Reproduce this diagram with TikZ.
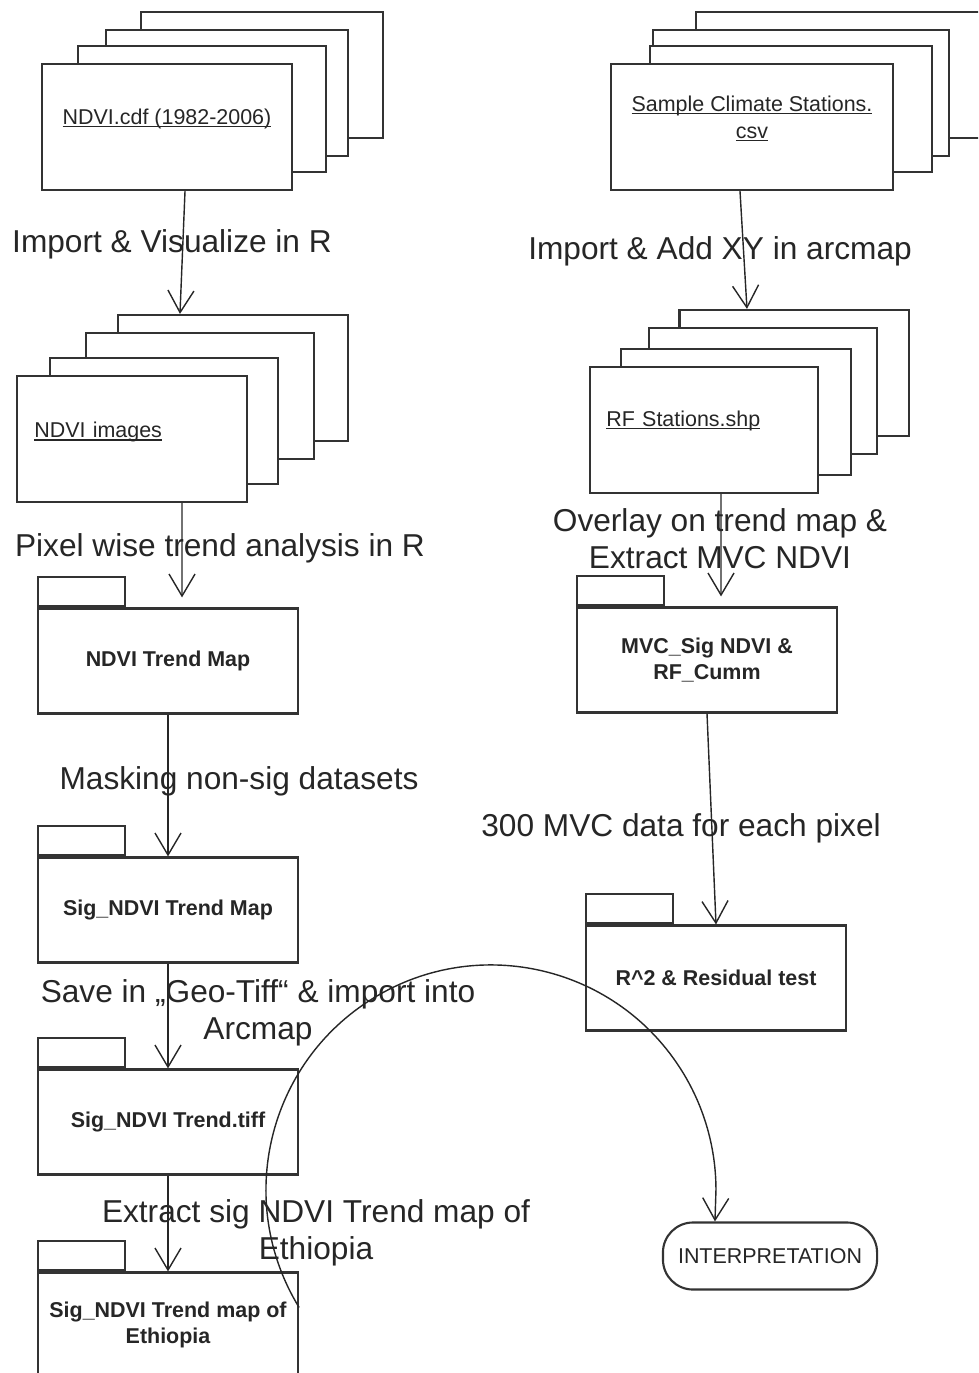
\documentclass[tikz,border=0pt]{standalone}
\usepackage{fontspec}
\setmainfont{Liberation Sans}
\usetikzlibrary{arrows.meta}
\newcommand\docname[1]{\setbox0=\hbox{#1}\rlap{\vrule width\wd0 height-0.45pt depth0.85pt}\box0}
\tikzset{sheet/.style={
    rectangle,
    draw=black!80,
    fill=white,
    line width=0.6pt,
    inner sep=0pt,
    minimum width=#1,
    minimum height=1.26cm,
    text=black!85,
    font=\fontsize{6.1}{7.6}\selectfont
  },
  docbox/.style={sheet=#1,align=center},
  leftdoc/.style={sheet=#1,align=left,text width=1.95cm},
  folder/.style={sheet=2.6cm,minimum height=1.05cm,align=center,
    font=\fontsize{6.1}{7.4}\selectfont\bfseries},
  foldtab/.style={sheet=0.87cm,minimum height=0.29cm,anchor=south west},
  endbox/.style={sheet=2.14cm,minimum height=0.67cm,rounded corners=0.3cm},
  steplabel/.style={inner sep=0pt,align=center,text=black!85,
    font=\fontsize{9}{10.5}\selectfont},
  flow/.style={draw=black!85,line width=0.4pt,
    -{Straight Barb[length=0.22cm,width=0.26cm]}}
}
\begin{document}
\begin{tikzpicture}[x=0.01cm,y=-0.01cm]
  \useasboundingbox (0,0) rectangle (978,1373);
  \clip (0,0) rectangle (978,1373);
  % input stacks
  \node [docbox=2.41cm] (cdfD) at (262,75) {};
  \node [docbox=2.41cm] (cdfC) at (227,93) {};
  \node [docbox=2.47cm] (cdfB) at (202,109) {};
  \node [docbox=2.49cm] (cdf) at (167,127)
    {\raisebox{0.21cm}{\docname{NDVI.cdf (1982-2006)}}};
  \node [docbox=2.94cm] (smpD) at (843,75) {};
  \node [docbox=2.95cm] (smpC) at (801,93) {};
  \node [docbox=2.81cm] (smpB) at (791,109) {};
  \node [docbox=2.81cm] (smp) at (752,127)
    {\raisebox{0.2cm}{\shortstack{\docname{Sample Climate Stations.}\\\docname{csv}}}};
  \node [leftdoc=2.30cm] (imgD) at (233,378) {};
  \node [leftdoc=2.28cm] (imgC) at (200,396) {};
  \node [leftdoc=2.28cm] (imgB) at (164,421) {};
  \node [leftdoc=2.30cm] (img) at (132,439)
    {\raisebox{0.18cm}{\docname{NDVI images}}};
  \node [leftdoc=2.29cm] (rfD) at (794,373) {};
  \node [leftdoc=2.28cm] (rfC) at (763,391) {};
  \node [leftdoc=2.29cm] (rfB) at (736,412) {};
  \node [leftdoc=2.27cm] (rf) at (704,430)
    {\raisebox{0.23cm}{\docname{RF Stations.shp}}};
  % folders
  \node [folder] (trend) at (168,661) {NDVI Trend Map};
  \node [folder] (sig) at (168,910) {Sig\_NDVI Trend Map};
  \node [folder] (tiff) at (168,1122) {Sig\_NDVI Trend.tiff};
  \node [folder] (eth) at (168,1325) {Sig\_NDVI Trend map of\\Ethiopia};
  \node [folder] (mvc) at (707,660) {MVC\_Sig NDVI \&\\RF\_Cumm};
  \node [folder] (rsq) at (716,978) {R\^{}2 \& Residual test};
  \foreach \f in {trend,sig,tiff,eth,mvc,rsq}
    \node [foldtab] (\f tab) at (\f.north west) {};
  \node [endbox] (interp) at (770,1256) {INTERPRETATION};
  % step labels
  \node [steplabel] (importR) at (172,244) {Import \& Visualize in R};
  \node [steplabel] (importXY) at (720,251) {Import \& Add XY in arcmap};
  \node [steplabel] (pixel) at (220,548) {Pixel wise trend analysis in R};
  \node [steplabel] (overlay) at (720,539) {Overlay on trend map \&\\Extract MVC NDVI};
  \node [steplabel] (masking) at (239,781) {Masking non-sig datasets};
  \node [steplabel] (mvcdata) at (681,828) {300 MVC data for each pixel};
  \node [steplabel] (save) at (258,1013) {Save in „Geo-Tiff“ \& import into\\Arcmap};
  \node [steplabel] (extract) at (316,1233) {Extract sig NDVI Trend map of\\Ethiopia};
  % connectors
  \draw [flow] ([xshift=0.18cm]cdf.south) -- ([xshift=-0.53cm]imgD.north);
  \draw [flow] ([xshift=-0.12cm]smp.south) -- ([xshift=-0.47cm]rfD.north);
  \draw [flow,shorten >=0.1cm] ([xshift=0.5cm]img.south) -- ([xshift=0.14cm]trend.north);
  \draw [flow,shorten >=0.1cm] ([xshift=0.17cm]rf.south) -- ([xshift=0.14cm]mvc.north);
  \draw [flow] (mvc.south) -- (rsq.north);
  \draw [flow] (trend.south) -- (sig.north);
  \draw [flow] (sig.south) -- (tiff.north);
  \draw [flow] (tiff.south) -- (eth.north);
  \draw [flow] ([yshift=0.175cm]eth.east) arc[start angle=148.5,end angle=360,radius=225]
    -- ([xshift=-0.55cm]interp.north);
\end{tikzpicture}
\end{document}
